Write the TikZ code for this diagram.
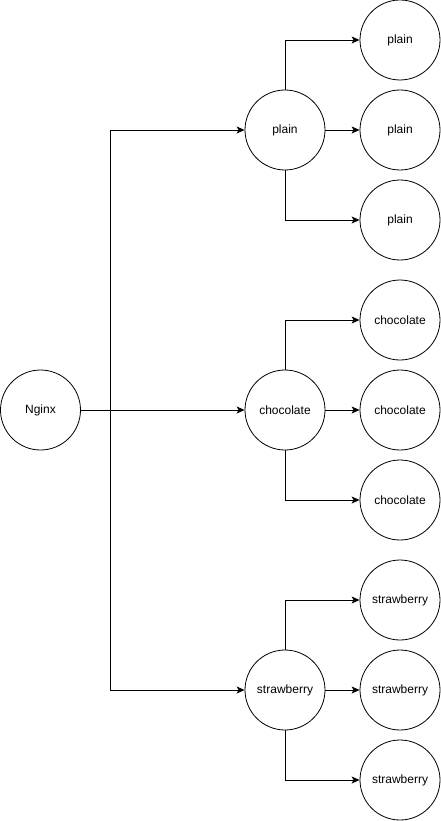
\documentclass[tikz,border=0pt]{standalone}
\usepackage{fontspec}
\setmainfont{Liberation Sans}
\usetikzlibrary{arrows.meta}
\begin{document}
\begin{tikzpicture}[x=1pt,y=-1pt,
  circ/.style={draw,circle,minimum size=80pt,inner sep=0pt,line width=0.8pt,font=\fontsize{12}{14}\selectfont},
  conn/.style={draw,line width=0.8pt,-{Stealth[length=8pt,width=7pt,inset=2pt]}},
  plainline/.style={draw,line width=0.8pt}]
\useasboundingbox (0,0) rectangle (441,821);
\node[circ] (ng) at (40.5,410) {Nginx};
\node[circ] (m1) at (285,130) {plain};
\node[circ] (m2) at (285,410) {chocolate};
\node[circ] (m3) at (285,690) {strawberry};
\node[circ] (a1) at (400,40) {plain};
\node[circ] (a2) at (400,130) {plain};
\node[circ] (a3) at (400,220) {plain};
\node[circ] (b1) at (400,320) {chocolate};
\node[circ] (b2) at (400,410) {chocolate};
\node[circ] (b3) at (400,500) {chocolate};
\node[circ] (c1) at (400,600) {strawberry};
\node[circ] (c2) at (400,690) {strawberry};
\node[circ] (c3) at (400,780) {strawberry};
\coordinate (j) at (110,410);
\draw[conn] (ng.east) -- (m2.west);
\draw[conn] (j) |- (m1.west);
\draw[conn] (j) |- (m3.west);
\foreach \m/\a/\b/\c in {m1/a1/a2/a3, m2/b1/b2/b3, m3/c1/c2/c3}{
  \draw[conn] (\m.north) |- (\a.west);
  \draw[conn] (\m.east) -- (\b.west);
  \draw[conn] (\m.south) |- (\c.west);
}
\end{tikzpicture}
\end{document}
